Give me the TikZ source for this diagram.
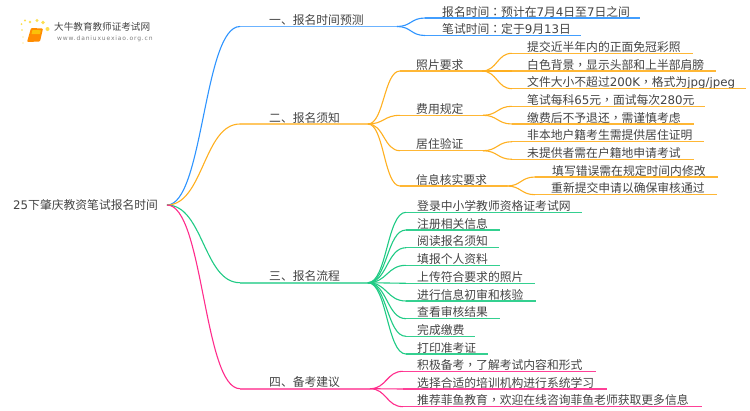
\documentclass[tikz,border=0pt]{standalone}
\usepackage{fontspec}
\setmainfont{Noto Sans CJK SC}
\newfontfamily\latfont{DejaVu Sans}
\newfontfamily\tcfont{Noto Sans CJK TC}
\newcommand{\lat}[1]{{\latfont #1}}
\newcommand{\pc}[1]{{\tcfont #1}}
\usetikzlibrary{calc}
\definecolor{cblue}{HTML}{2E94FF}
\definecolor{corange}{HTML}{FFB020}
\definecolor{cgreen}{HTML}{1FCB85}
\definecolor{cpink}{HTML}{FF2C8C}
\definecolor{ctext}{HTML}{444444}
\tikzset{
  lbl/.style={anchor=base west,inner sep=0pt,text=ctext,font=\fontsize{11.8pt}{13pt}\selectfont},
  bcurve/.style={line width=1.1pt},
  bline/.style={line width=1.2pt,draw opacity=.9},
}
% \kid{name}{colour}{parent}{elbow x}{line y}{end x}{text x}{text}
\newcommand{\kid}[8]{%
  \node[lbl] (#1) at (#7,#5-2) {#8};
  \coordinate (#1-s) at (#4,#5);
  \coordinate (#1-e) at (#6,#5);
  \path (#3) -- (#1-s) coordinate[midway] (#1-m);
  \draw[#2,bcurve] (#3) .. controls (#1-m |- #3) and (#1-m |- #1-s) .. (#1-s);
  \draw[#2,bline] (#1-s) -- (#1-e);
}
\begin{document}
\begin{tikzpicture}[x=1pt,y=-1pt]
\useasboundingbox (0,0) rectangle (750,410);
\fill[white] (0,0) rectangle (750,410);
% logo
\foreach \a/\b/\r in {22/30/.8,21.5/24/1,25/20.5/1.2,30/22/1.4,37/20.5/1.7,43/22.5/1.8,47.5/29/2,23/37/.7,23/43/.6}
  \fill[yellow!70!orange,opacity=.7] (\a,\b) circle (\r);
\fill[orange!90!yellow,rounded corners=1pt] (31,28) -- (43,28.5) -- (40,41.5) -- (27,42) -- cycle;
\fill[yellow!55!orange] (32.5,30) -- (41,30.3) -- (40,34) -- (31.5,34) -- cycle;
\node[inner sep=0pt,anchor=west,text=ctext] (logot) at (54,27) {\fontsize{9.6pt}{12pt}\selectfont 大牛教育教师证考试网};
\node[inner sep=0pt,anchor=west,text=gray] (logou) at (57,39) {\latfont\fontsize{6pt}{8pt}\selectfont\addfontfeature{LetterSpace=14}www.daniuxuexiao.org.cn};
% root
\node[lbl] (root) at (13,209.5) {\lat{25}下肇庆教资笔试报名时间};
\coordinate (rootj) at (167,205);
% level 1
\begin{scope}[bline/.style={line width=1.7pt,draw opacity=.7}]
\kid{a}{cblue}{rootj}{240}{26.5}{397}{269}{一、报名时间预测}
\kid{b}{corange}{rootj}{240}{124}{368}{269}{二、报名须知}
\kid{c}{cgreen}{rootj}{240}{282.7}{368}{269}{三、报名流程}
\kid{d}{cpink}{rootj}{240}{388.7}{370}{269}{四、备考建议}
\end{scope}
% branch 1
\kid{a1}{cblue}{a-e}{425}{18}{640}{442}{报名时间\pc{：}预计在\lat{7}月\lat{4}日至\lat{7}日之间}
\kid{a2}{cblue}{a-e}{425}{35.5}{581}{442}{笔试时间\pc{：}定于\lat{9}月\lat{13}日}
% branch 2
\kid{b1}{corange}{b-e}{400}{71}{482}{416}{照片要求}
\kid{b2}{corange}{b-e}{400}{115.3}{483}{416}{费用规定}
\kid{b3}{corange}{b-e}{400}{150.7}{483}{416}{居住验证}
\kid{b4}{corange}{b-e}{400}{186}{507}{416}{信息核实要求}
\kid{b1a}{corange}{b1-e}{512}{53.3}{693}{527}{提交近半年内的正面免冠彩照}
\kid{b1b}{corange}{b1-e}{512}{71}{716}{527}{白色背景\pc{，}显示头部和上半部肩膀}
\kid{b1c}{corange}{b1-e}{512}{88.7}{746}{527}{文件大小不超过\lat{200K}\pc{，}格式为\lat{jpg/jpeg}}
\kid{b2a}{corange}{b2-e}{512}{106.3}{705}{527}{笔试每科\lat{65}元\pc{，}面试每次\lat{280}元}
\kid{b2b}{corange}{b2-e}{512}{124}{694}{527}{缴费后不予退还\pc{，}需谨慎考虑}
\kid{b3a}{corange}{b3-e}{512}{141.7}{704}{527}{非本地户籍考生需提供居住证明}
\kid{b3b}{corange}{b3-e}{512}{159.3}{694}{527}{未提供者需在户籍地申请考试}
\kid{b4a}{corange}{b4-e}{535}{177}{718}{552}{填写错误需在规定时间内修改}
\kid{b4b}{corange}{b4-e}{535}{194.7}{717}{551}{重新提交申请以确保审核通过}
% branch 3
\kid{c1}{cgreen}{c-e}{406}{212.3}{582}{417}{登录中小学教师资格证考试网}
\kid{c2}{cgreen}{c-e}{406}{230}{500}{417}{注册相关信息}
\kid{c3}{cgreen}{c-e}{406}{247.7}{499}{417}{阅读报名须知}
\kid{c4}{cgreen}{c-e}{406}{265.3}{500}{417}{填报个人资料}
\kid{c5}{cgreen}{c-e}{406}{283.3}{535}{417}{上传符合要求的照片}
\kid{c6}{cgreen}{c-e}{406}{301}{536}{417}{进行信息初审和核验}
\kid{c7}{cgreen}{c-e}{406}{318.7}{500}{417}{查看审核结果}
\kid{c8}{cgreen}{c-e}{406}{336.3}{475}{417}{完成缴费}
\kid{c9}{cgreen}{c-e}{406}{354}{488}{417}{打印准考证}
% branch 4
\kid{d1}{cpink}{d-e}{403}{371.3}{596}{417}{积极备考\pc{，}了解考试内容和形式}
\kid{d2}{cpink}{d-e}{403}{389}{607}{417}{选择合适的培训机构进行系统学习}
\kid{d3}{cpink}{d-e}{403}{406.7}{702}{417}{推荐菲鱼教育\pc{，}欢迎在线咨询菲鱼老师获取更多信息}
\end{tikzpicture}
\end{document}
